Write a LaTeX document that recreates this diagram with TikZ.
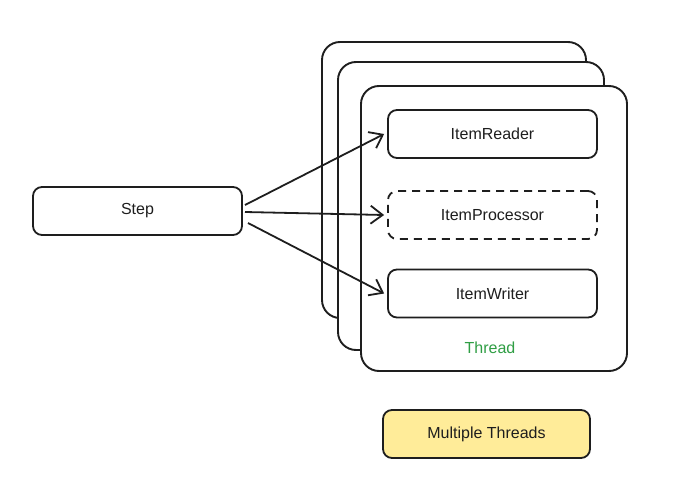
\documentclass[tikz,border=0pt]{standalone}
\usepackage{fontspec}
\setmainfont{Liberation Sans}
\usetikzlibrary{arrows.meta}
\definecolor{ink}{HTML}{1E1E1E}
\definecolor{note}{HTML}{FFEC99}
\definecolor{thr}{HTML}{2F9E44}
\begin{document}
\begin{tikzpicture}[x=1pt,y=-1pt,
  thread/.style={draw=ink,line width=1.9pt,rounded corners=18pt,fill=white},
  comp/.style={draw=ink,line width=1.8pt,rounded corners=9pt,minimum width=209pt,minimum height=48pt,font=\fontsize{16}{18}\selectfont,text=ink,inner sep=0pt},
  link/.style={draw=ink,line width=1.8pt,-{Straight Barb[length=12pt,width=18pt,line width=1.8pt]}}]
\useasboundingbox (0,0) rectangle (695,481);
\draw[thread] (322,42) rectangle (586,318);
\draw[thread] (338,62) rectangle (604,350);
\draw[thread] (361,86) rectangle (627,371);
\node[comp] (reader) at (492.5,134) {ItemReader};
\node[comp,dashed,dash pattern=on 8pt off 6pt] (proc) at (492.5,215) {ItemProcessor};
\node[comp] (writer) at (492.5,293.5) {ItemWriter};
\node[text=thr,font=\fontsize{16}{18}\selectfont] (tlabel) at (490,348) {Thread};
\node[comp] (step) at (137.5,211) {Step};
\node[comp,fill=note,minimum width=207pt] (multi) at (486.5,434) {Multiple Threads};
\coordinate (s1) at (245,205);
\coordinate (s2) at (245,212);
\coordinate (s3) at (248,223);
\draw[link] (s1) -- ([xshift=-3pt]reader.west);
\draw[link] (s2) -- ([xshift=-3pt]proc.west);
\draw[link] (s3) -- ([xshift=-3pt,yshift=0pt]writer.west);
\end{tikzpicture}
\end{document}
